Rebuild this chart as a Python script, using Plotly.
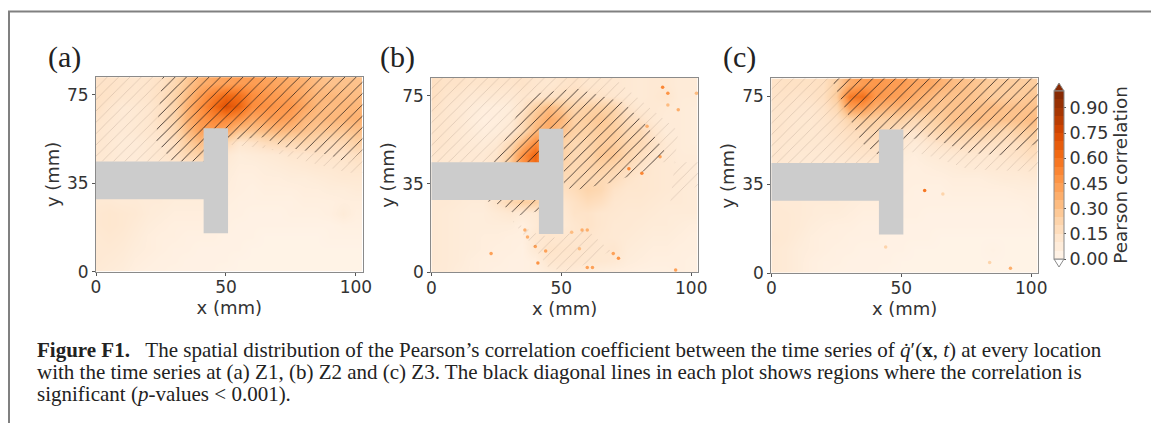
import plotly.graph_objs as go
import plotly.express as px

W, H = 1151, 423

# cell centres of the coarse grids, mm
x_mm = [0, 5, 10, 15, 20, 25, 30, 35, 40, 45, 50, 55, 60, 65, 70, 75, 80, 85, 90, 95, 100]
y_mm = [80, 75, 70, 65, 60, 55, 50, 45, 40, 35, 30, 25, 20, 15, 10, 5, 0]

# correlation, top row first
z_a = [
    [.14, .14, .13, .12, .13, .15, .20, .28, .36, .40, .42, .44, .44, .42, .40, .38, .36, .32, .30, .30, .30],
    [.15, .14, .12, .12, .13, .16, .22, .32, .44, .54, .62, .60, .50, .46, .44, .42, .38, .34, .34, .32, .32],
    [.15, .12, .09, .10, .12, .15, .22, .36, .48, .60, .72, .64, .50, .48, .46, .46, .40, .34, .32, .34, .34],
    [.13, .11, .09, .10, .12, .16, .22, .36, .46, .52, .52, .48, .40, .42, .44, .42, .34, .32, .34, .34, .36],
    [.12, .10, .09, .10, .12, .14, .20, .32, .42, .44, .40, .30, .30, .32, .34, .32, .30, .28, .28, .28, .30],
    [.12, .10, .08, .08, .10, .12, .16, .26, .32, .24, .20, .12, .14, .18, .20, .20, .22, .20, .18, .20, .24],
    [.11, .10, .08, .08, .10, .12, .15, .20, .24, .20, .10, .07, .08, .09, .10, .12, .12, .14, .14, .14, .16],
    [.10, .09, .08, .08, .09, .10, .12, .14, .14, .10, .08, .06, .06, .07, .08, .09, .10, .11, .11, .12, .13],
    [.10, .09, .08, .08, .08, .08, .08, .08, .08, .08, .07, .05, .05, .06, .06, .07, .07, .08, .09, .10, .10],
    [.10, .09, .08, .08, .08, .08, .08, .08, .08, .08, .06, .05, .04, .05, .05, .05, .06, .06, .07, .07, .08],
    [.10, .10, .09, .09, .08, .08, .07, .07, .07, .06, .05, .04, .04, .04, .04, .04, .05, .05, .05, .06, .06],
    [.11, .12, .11, .10, .08, .07, .06, .06, .06, .05, .04, .04, .03, .03, .03, .04, .04, .04, .05, .08, .05],
    [.11, .12, .11, .09, .07, .06, .05, .05, .05, .04, .04, .03, .03, .03, .03, .03, .03, .03, .03, .04, .04],
    [.10, .11, .10, .08, .06, .05, .05, .04, .04, .04, .03, .03, .03, .02, .02, .02, .02, .02, .03, .03, .03],
    [.10, .10, .09, .07, .06, .05, .04, .04, .03, .03, .03, .03, .02, .02, .02, .02, .02, .02, .02, .02, .02],
    [.10, .09, .08, .06, .05, .04, .04, .03, .03, .03, .03, .02, .02, .02, .02, .02, .02, .02, .02, .02, .02],
    [.09, .08, .07, .05, .04, .04, .03, .03, .03, .03, .02, .02, .02, .02, .02, .02, .02, .02, .02, .02, .02],
]

# panel (b)
z_b = [
    [.16, .14, .14, .13, .13, .13, .13, .14, .12, .11, .13, .14, .12, .12, .11, .10, .09, .10, .10, .08, .08],
    [.16, .13, .12, .10, .10, .10, .10, .12, .12, .14, .16, .17, .15, .14, .12, .10, .09, .10, .12, .08, .08],
    [.15, .12, .10, .08, .06, .06, .07, .13, .24, .32, .28, .22, .24, .24, .22, .14, .10, .10, .09, .08, .07],
    [.13, .12, .10, .07, .05, .06, .08, .18, .30, .38, .34, .24, .26, .28, .24, .18, .14, .10, .08, .08, .07],
    [.13, .12, .10, .08, .06, .07, .10, .20, .34, .38, .30, .24, .24, .26, .26, .20, .20, .13, .08, .08, .07],
    [.13, .12, .10, .09, .08, .10, .18, .34, .50, .36, .24, .20, .22, .26, .26, .22, .20, .15, .10, .08, .07],
    [.12, .11, .10, .10, .10, .13, .24, .48, .64, .38, .24, .20, .22, .28, .28, .22, .17, .13, .10, .08, .08],
    [.12, .11, .10, .10, .10, .14, .26, .46, .60, .36, .22, .20, .22, .24, .22, .18, .14, .11, .10, .09, .08],
    [.11, .10, .10, .10, .10, .12, .16, .22, .24, .20, .18, .20, .20, .20, .18, .14, .12, .11, .10, .10, .08],
    [.11, .10, .09, .09, .09, .10, .12, .15, .15, .14, .15, .18, .22, .20, .14, .12, .12, .11, .10, .09, .08],
    [.10, .10, .09, .08, .08, .14, .20, .25, .25, .16, .12, .15, .18, .16, .12, .11, .11, .10, .09, .09, .08],
    [.10, .09, .08, .07, .07, .09, .11, .09, .10, .14, .10, .14, .14, .12, .11, .10, .10, .09, .08, .08, .08],
    [.10, .09, .08, .07, .07, .07, .07, .05, .09, .14, .09, .12, .14, .12, .10, .10, .09, .08, .08, .07, .06],
    [.10, .09, .08, .07, .06, .06, .05, .05, .11, .12, .12, .12, .13, .11, .10, .09, .08, .07, .07, .06, .05],
    [.10, .09, .08, .07, .06, .05, .05, .04, .10, .14, .13, .13, .12, .11, .12, .08, .07, .06, .06, .05, .05],
    [.10, .09, .08, .06, .05, .05, .04, .04, .05, .12, .12, .12, .11, .11, .10, .07, .06, .05, .05, .05, .04],
    [.09, .09, .07, .06, .05, .04, .04, .04, .05, .07, .09, .08, .07, .06, .05, .05, .04, .04, .04, .05, .04],
]

# panel (c)
z_c = [
    [.14, .15, .15, .15, .16, .24, .38, .44, .46, .44, .44, .40, .40, .36, .32, .30, .28, .26, .26, .26, .26],
    [.14, .14, .13, .14, .16, .26, .56, .60, .46, .44, .42, .38, .34, .30, .30, .30, .28, .26, .26, .26, .28],
    [.13, .13, .12, .12, .14, .20, .42, .44, .36, .34, .34, .32, .30, .28, .30, .30, .30, .32, .30, .30, .30],
    [.13, .12, .11, .11, .13, .15, .22, .26, .24, .24, .24, .20, .22, .26, .30, .30, .32, .30, .30, .30, .32],
    [.13, .12, .11, .11, .12, .14, .16, .18, .20, .18, .14, .13, .18, .22, .24, .24, .24, .22, .20, .24, .26],
    [.12, .11, .11, .11, .11, .12, .14, .15, .16, .14, .10, .08, .11, .14, .16, .17, .16, .15, .15, .16, .20],
    [.12, .11, .10, .10, .10, .11, .12, .13, .13, .11, .07, .06, .08, .09, .10, .11, .11, .11, .13, .14, .16],
    [.11, .10, .09, .09, .09, .09, .09, .09, .09, .08, .06, .05, .06, .07, .08, .09, .09, .10, .10, .11, .12],
    [.10, .09, .09, .09, .09, .08, .08, .08, .08, .07, .05, .05, .05, .05, .06, .06, .06, .07, .08, .08, .09],
    [.10, .09, .08, .08, .08, .08, .08, .08, .08, .06, .05, .04, .04, .04, .05, .05, .05, .05, .05, .06, .06],
    [.10, .09, .09, .08, .08, .08, .07, .06, .06, .05, .04, .04, .04, .04, .04, .04, .04, .04, .04, .04, .05],
    [.10, .10, .09, .08, .07, .07, .06, .05, .05, .04, .04, .04, .03, .03, .03, .03, .03, .03, .03, .03, .04],
    [.10, .10, .09, .07, .06, .05, .05, .04, .04, .04, .03, .03, .03, .03, .03, .03, .03, .03, .03, .03, .03],
    [.11, .10, .08, .06, .05, .05, .04, .04, .04, .03, .03, .03, .03, .02, .02, .02, .02, .02, .02, .02, .02],
    [.10, .09, .07, .06, .05, .04, .04, .03, .03, .03, .03, .02, .02, .02, .02, .02, .02, .03, .02, .02, .02],
    [.10, .09, .07, .05, .04, .04, .03, .03, .03, .03, .02, .02, .02, .02, .02, .02, .02, .02, .02, .02, .02],
    [.10, .09, .07, .05, .04, .03, .03, .03, .03, .02, .02, .02, .02, .02, .02, .02, .02, .02, .02, .02, .02],
]

# the grey burner outline, mm
t_x = [0, 41.4, 41.4, 50.8, 50.8, 41.4, 41.4, 0, 0]
t_y = [46.7, 46.7, 60.9, 60.9, 16.3, 16.3, 30.7, 30.7, 46.7]

# hatched regions (p < 0.001)
sig_a_x = [25.6, 23, 29.5, 42, 42, 50.6, 64, 72, 90, 97, 102.6, 102.6]
sig_a_y = [82.6, 56, 46.7, 46.7, 60, 56, 57, 53, 49.5, 46, 51.6, 82.6]
weak_a_x = [0, 0, 42, 42, 102.6, 102.6, 97, 84, 70, 25.6]
weak_a_y = [82.6, 46.7, 46.7, 55, 48, 42, 42, 46, 50, 82.6]

sig_b_x = [24, 33, 41, 56, 74, 83, 90, 82, 69, 56, 51, 51, 42, 42, 24]
sig_b_y = [46.7, 67, 76, 78, 72, 62, 51, 43, 38, 35, 36, 60, 60, 46.7, 46.7]
sig_b2_x = [20, 41.4, 41.4, 33, 28]
sig_b2_y = [30.7, 30.7, 26, 24, 28]
weak_b_x = [0, 0, 102.6, 102.6, 92, 95, 70, 50, 45, 35, 0]
weak_b_y = [82.6, 46.7, 46.7, 37, 30, 60, 82.6, 82.6, 82.6, 82.6, 82.6]
weak_b3_x = [31, 40, 45, 53, 69, 60, 51, 51, 41]
weak_b3_y = [22, 10, 2, 0, 9, 18, 16, 14, 16]

sig_c_x = [23, 30, 35, 41.4, 41.4, 50.8, 50.8, 60, 76, 88, 102.6, 102.6]
sig_c_y = [82.6, 66, 55, 50, 61, 61, 56, 58, 51, 50, 55, 82.6]
weak_c_x = [0, 0, 41.4, 41.4, 50.8, 60, 76, 102.6, 102.6, 23]
weak_c_y = [82.6, 46.7, 46.7, 50, 52, 50, 44, 43, 82.6, 82.6]

# bright specks
spot_b_x = [89, 91, 91, 95, 102, 83, 37, 40, 44, 36, 58, 60, 70, 72, 88, 94, 76, 81, 23, 41, 60, 54, 57, 62]
spot_b_y = [78.5, 76, 71, 69, 76, 62, 15, 11, 9, 18, 18, 18, 8, 6, 49, 1, 44, 42, 8, 4, 2, 17, 10, 2]
spot_b_z = [.5, .45, .3, .35, .3, .35, .35, .4, .4, .35, .35, .35, .4, .45, .4, .4, .5, .5, .4, .45, .4, .3, .3, .4]
spot_c_x = [59, 66, 44, 84, 92]
spot_c_y = [35, 33.5, 11, 4.5, 2]
spot_c_z = [.55, .2, .2, .2, .35]

panel_labels = ['(a)', '(b)', '(c)']
y_tick_vals = [0, 37.6, 75]
y_tick_text = ['0', '35', '75']
cbar_ticks = [0, .15, .3, .45, .6, .75, .9]
cbar_text = ['0.00', '0.15', '0.30', '0.45', '0.60', '0.75', '0.90']

caption = [
    "<b>Figure F1.</b>   The spatial distribution of the Pearson’s correlation coefficient between the time series of "
    "<i>q̇</i>′(<b>x</b>, <i>t</i>) at every location",
    "with the time series at (a) Z1, (b) Z2 and (c) Z3. The black diagonal lines in each plot shows regions where the correlation is",
    "significant (<i>p</i>-values &lt; 0.001).",
]

# matplotlib style Oranges in 20 flat levels for the bar, smooth for the maps
levels = 20
rgb = px.colors.sample_colorscale(px.colors.sequential.Oranges, [(i + .5) / levels for i in range(levels)])
scale = []
for i, c in enumerate(rgb):
    scale.append([i / levels, c])
    scale.append([(i + 1) / levels, c])


def px_x(v):
    return v / W


def px_y(v):
    return 1 - v / H


tick_font = dict(family='DejaVu Sans', size=17, color='#333333')
title_font = dict(family='DejaVu Sans', size=18, color='#333333')
boxes = [(96, 362.7, 77, 271.7), (431.3, 698, 77.7, 272.3), (771.3, 1038, 78.3, 273)]
label_x = [46, 378, 721]

fig = go.Figure()


def add_region(n, xs, ys, color, solidity):
    fig.add_trace(go.Scatter(x=xs + xs[:1], y=ys + ys[:1], xaxis='x' + n, yaxis='y' + n, mode='lines',
                             line=dict(width=0), fill='toself', fillcolor='rgba(0,0,0,0)',
                             fillpattern=dict(shape='/', size=8, solidity=solidity, fgcolor=color, fgopacity=1,
                                              bgcolor='rgba(0,0,0,0)'),
                             hoverinfo='skip'))


panels = [
    (z_a, [(weak_a_x, weak_a_y)], [(sig_a_x, sig_a_y)], [], [], []),
    (z_b, [(weak_b_x, weak_b_y), (weak_b3_x, weak_b3_y)], [(sig_b_x, sig_b_y), (sig_b2_x, sig_b2_y)], spot_b_x, spot_b_y, spot_b_z),
    (z_c, [(weak_c_x, weak_c_y)], [(sig_c_x, sig_c_y)], spot_c_x, spot_c_y, spot_c_z),
]

for i, (z, weak, strong, sx, sy, sz) in enumerate(panels):
    n = str(i + 1) if i else ''
    fig.add_trace(go.Heatmap(x=x_mm, y=y_mm, z=z, xaxis='x' + n, yaxis='y' + n, coloraxis='coloraxis', zsmooth='best'))
    if sx:
        fig.add_trace(go.Scatter(x=sx, y=sy, xaxis='x' + n, yaxis='y' + n, mode='markers',
                                 marker=dict(size=3.5, color=sz, coloraxis='coloraxis2', line=dict(width=0))))
    for xs, ys in weak:
        add_region(n, xs, ys, 'rgba(90,70,55,0.45)', .045)
    for xs, ys in strong:
        add_region(n, xs, ys, 'rgba(35,25,20,0.85)', .11)
    fig.add_trace(go.Scatter(x=t_x, y=t_y, xaxis='x' + n, yaxis='y' + n, mode='lines', line=dict(width=0),
                             fill='toself', fillcolor='#cccccc', hoverinfo='skip'))
    x0, x1, top, bottom = boxes[i]
    axis = dict(showgrid=False, zeroline=False, showline=True, mirror=True, linecolor='#8a8a8a', linewidth=1,
                ticks='outside', ticklen=3, tickcolor='#555555', tickfont=tick_font, title_font=title_font)
    fig.update_layout({
        'xaxis' + n: dict(axis, domain=[px_x(x0), px_x(x1)], anchor='y' + n, range=[0, 102.6], ticklabelstandoff=-3,
                          tickvals=[0, 50, 100], title=dict(text='x (mm)', standoff=0)),
        'yaxis' + n: dict(axis, domain=[px_y(bottom), px_y(top)], anchor='x' + n, range=[0, 82.6],
                          tickvals=y_tick_vals, ticktext=y_tick_text, title=dict(text='y (mm)', standoff=2)),
    })
    fig.add_annotation(text=panel_labels[i], xref='paper', yref='paper', x=px_x(label_x[i]), y=px_y(57), xanchor='left',
                       yanchor='middle', showarrow=False, font=dict(family='Liberation Serif', size=30, color='#222222'))

# colour bar arrow ends
bar_l, bar_r = 1054, 1064
fig.add_shape(type='path', xref='paper', yref='paper', line=dict(color='#8a8a8a', width=1), fillcolor=rgb[-1],
              path=f'M{px_x(bar_l)},{px_y(91)} L{px_x((bar_l + bar_r) / 2)},{px_y(83)} L{px_x(bar_r)},{px_y(91)} Z')
fig.add_shape(type='path', xref='paper', yref='paper', line=dict(color='#8a8a8a', width=1), fillcolor='#ffffff',
              path=f'M{px_x(bar_l)},{px_y(259)} L{px_x((bar_l + bar_r) / 2)},{px_y(267)} L{px_x(bar_r)},{px_y(259)} Z')

# page frame
fig.add_shape(type='line', xref='paper', yref='paper', x0=px_x(9), x1=px_x(9), y0=px_y(11), y1=0,
              line=dict(color='#808080', width=2))
fig.add_shape(type='line', xref='paper', yref='paper', x0=px_x(8), x1=1, y0=px_y(11.5), y1=px_y(11.5),
              line=dict(color='#808080', width=2))

for line, y in zip(caption, [350, 372, 394]):
    fig.add_annotation(text=line, xref='paper', yref='paper', x=px_x(35), y=px_y(y), xanchor='left', yanchor='middle',
                       showarrow=False, font=dict(family='Liberation Serif', size=21, color='#222222'))

fig.update_layout(
    width=W, height=H, margin=dict(l=0, r=0, t=0, b=0, autoexpand=False), paper_bgcolor='white', plot_bgcolor='white',
    showlegend=False,
    coloraxis=dict(cmin=0, cmax=1, colorscale='Oranges', showscale=False),
    coloraxis2=dict(cmin=0, cmax=1, colorscale=scale, colorbar=dict(
        x=px_x(bar_l), xanchor='left', xpad=0, ypad=0, y=px_y(175), yanchor='middle', lenmode='pixels', len=168,
        thickness=10, thicknessmode='pixels', outlinecolor='#8a8a8a', outlinewidth=1,
        tickvals=cbar_ticks, ticktext=cbar_text, ticks='outside', ticklen=2, tickcolor='#555555',
        tickfont=dict(family='DejaVu Sans', size=17.5, color='#333333'),
        title=dict(text='Pearson correlation', side='right', font=dict(family='DejaVu Sans', size=18.4, color='#333333')))),
)

fig.write_html("out.html", config=dict(displayModeBar=False), post_script="document.body.style.margin = '0';")
